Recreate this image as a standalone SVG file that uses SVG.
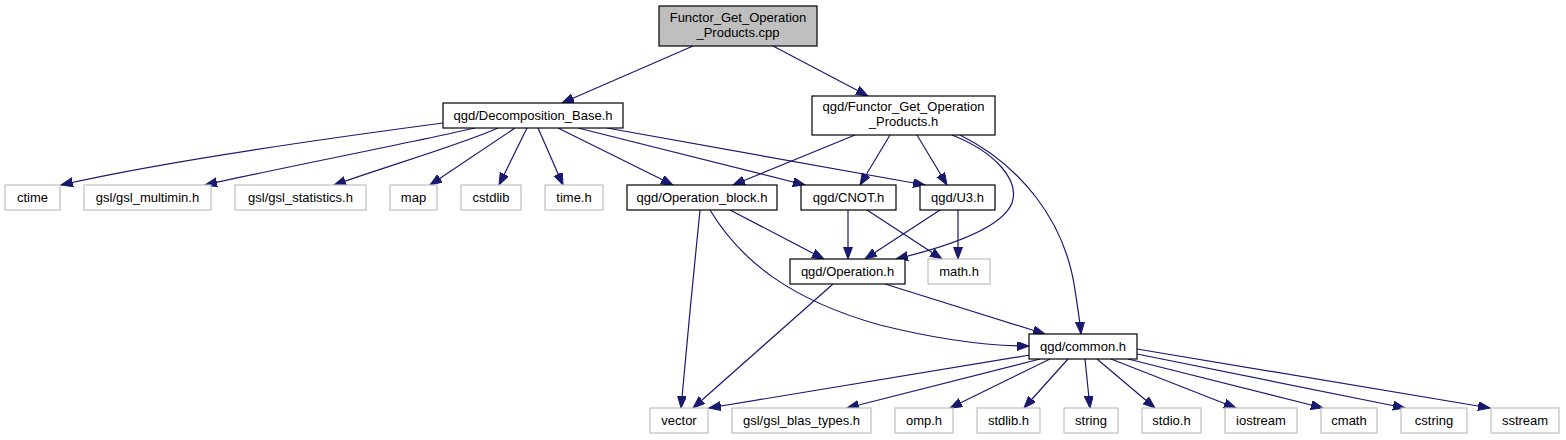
<svg xmlns="http://www.w3.org/2000/svg" width="1566" height="440" viewBox="0 0 1566 440">
<style>
.n rect{fill:#fff;stroke:#000;stroke-width:1.2}
.s rect{fill:#fff;stroke:#bfbfbf;stroke-width:1.2}
.root rect{fill:#bfbfbf;stroke:#000;stroke-width:1.2}
text{font-family:"Liberation Sans",Arial,Helvetica,sans-serif;font-size:13px;fill:#000;text-anchor:middle}
#edges path{fill:none;stroke:#191970;stroke-width:1.2;marker-end:url(#ah)}
</style>
<defs>
<marker id="ah" markerUnits="userSpaceOnUse" markerWidth="14" markerHeight="11" refX="12" refY="4.5" orient="auto">
<path d="M0,0 L12,4.5 L0,9 z" fill="#191970" stroke="#191970" stroke-width="1"/>
</marker>
</defs>
<rect width="1566" height="440" fill="#fff"/>
<g id="edges">
<path d="M693,46 L562,103"/>
<path d="M773,46 L868,96"/>
<path d="M443,123 C360,134 170,160 61,185"/>
<path d="M475,128 C400,145 280,168 205,185"/>
<path d="M498,128 C460,145 390,165 334,185"/>
<path d="M515,128 L430,185"/>
<path d="M527,128 L499,185"/>
<path d="M538,128 L563,185"/>
<path d="M558,128 L673,185"/>
<path d="M578,128 L805,185"/>
<path d="M607,128 L925,185"/>
<path d="M855,135 L733,185"/>
<path d="M890,135 L860,185"/>
<path d="M917,135 L947,185"/>
<path d="M952,135 C995,152 1020,180 1012,203 C1002,228 950,246 896,259"/>
<path d="M960,135 C1020,165 1065,220 1075,290 C1078,310 1080,322 1081,334"/>
<path d="M700,210 C694,270 686,350 681,408"/>
<path d="M730,210 L824,259"/>
<path d="M710,210 C740,260 790,300 880,325 C940,340 990,346 1029,346"/>
<path d="M848,210 L848,259"/>
<path d="M867,210 L942,259"/>
<path d="M940,210 L865,259"/>
<path d="M958,210 L958,259"/>
<path d="M833,284 L693,408"/>
<path d="M885,284 L1045,334"/>
<path d="M1030,355 L709,408"/>
<path d="M1040,359 L847,408"/>
<path d="M1050,359 L950,408"/>
<path d="M1068,359 L1024,408"/>
<path d="M1085,359 L1090,408"/>
<path d="M1097,359 L1155,408"/>
<path d="M1111,359 L1236,408"/>
<path d="M1128,359 L1323,408"/>
<path d="M1137,354 L1405,408"/>
<path d="M1137,349 L1490,408"/>
</g>
<g id="node_cpp" class="root"><rect x="659" y="6" width="158" height="40"/><text x="738" y="22">Functor_Get_Operation</text><text x="738" y="37">_Products.cpp</text></g>
<g id="node_decomp" class="n"><rect x="443" y="103" width="180" height="25"/><text x="533" y="120">qgd/Decomposition_Base.h</text></g>
<g id="node_functor_h" class="n"><rect x="812" y="96" width="183" height="39"/><text x="903.5" y="111">qgd/Functor_Get_Operation</text><text x="903.5" y="126">_Products.h</text></g>
<g id="node_ctime" class="s"><rect x="5" y="185" width="55" height="25"/><text x="32.5" y="202">ctime</text></g>
<g id="node_gsl_multimin" class="s"><rect x="84" y="185" width="127" height="25"/><text x="147.5" y="202">gsl/gsl_multimin.h</text></g>
<g id="node_gsl_statistics" class="s"><rect x="235" y="185" width="131" height="25"/><text x="300.5" y="202">gsl/gsl_statistics.h</text></g>
<g id="node_map" class="s"><rect x="390" y="185" width="47" height="25"/><text x="413.5" y="202">map</text></g>
<g id="node_cstdlib" class="s"><rect x="461" y="185" width="60" height="25"/><text x="491" y="202">cstdlib</text></g>
<g id="node_time" class="s"><rect x="545" y="185" width="58" height="25"/><text x="574" y="202">time.h</text></g>
<g id="node_operation_block" class="n"><rect x="627" y="185" width="150" height="25"/><text x="702" y="202">qgd/Operation_block.h</text></g>
<g id="node_cnot" class="n"><rect x="801" y="185" width="95" height="25"/><text x="848.5" y="202">qgd/CNOT.h</text></g>
<g id="node_u3" class="n"><rect x="920" y="185" width="75" height="25"/><text x="957.5" y="202">qgd/U3.h</text></g>
<g id="node_operation" class="n"><rect x="790" y="259" width="115" height="25"/><text x="847.5" y="276">qgd/Operation.h</text></g>
<g id="node_math" class="s"><rect x="928" y="259" width="62" height="25"/><text x="959" y="276">math.h</text></g>
<g id="node_common" class="n"><rect x="1029" y="334" width="108" height="25"/><text x="1083" y="351">qgd/common.h</text></g>
<g id="node_vector" class="s"><rect x="650" y="408" width="58" height="25"/><text x="679" y="425">vector</text></g>
<g id="node_gsl_blas" class="s"><rect x="732" y="408" width="139" height="25"/><text x="801.5" y="425">gsl/gsl_blas_types.h</text></g>
<g id="node_omp" class="s"><rect x="895" y="408" width="58" height="25"/><text x="924" y="425">omp.h</text></g>
<g id="node_stdlib" class="s"><rect x="977" y="408" width="63" height="25"/><text x="1008.5" y="425">stdlib.h</text></g>
<g id="node_string" class="s"><rect x="1064" y="408" width="54" height="25"/><text x="1091" y="425">string</text></g>
<g id="node_stdio" class="s"><rect x="1142" y="408" width="59" height="25"/><text x="1171.5" y="425">stdio.h</text></g>
<g id="node_iostream" class="s"><rect x="1225" y="408" width="72" height="25"/><text x="1261" y="425">iostream</text></g>
<g id="node_cmath" class="s"><rect x="1321" y="408" width="56" height="25"/><text x="1349" y="425">cmath</text></g>
<g id="node_cstring" class="s"><rect x="1401" y="408" width="66" height="25"/><text x="1434" y="425">cstring</text></g>
<g id="node_sstream" class="s"><rect x="1491" y="408" width="68" height="25"/><text x="1525" y="425">sstream</text></g>
</svg>
